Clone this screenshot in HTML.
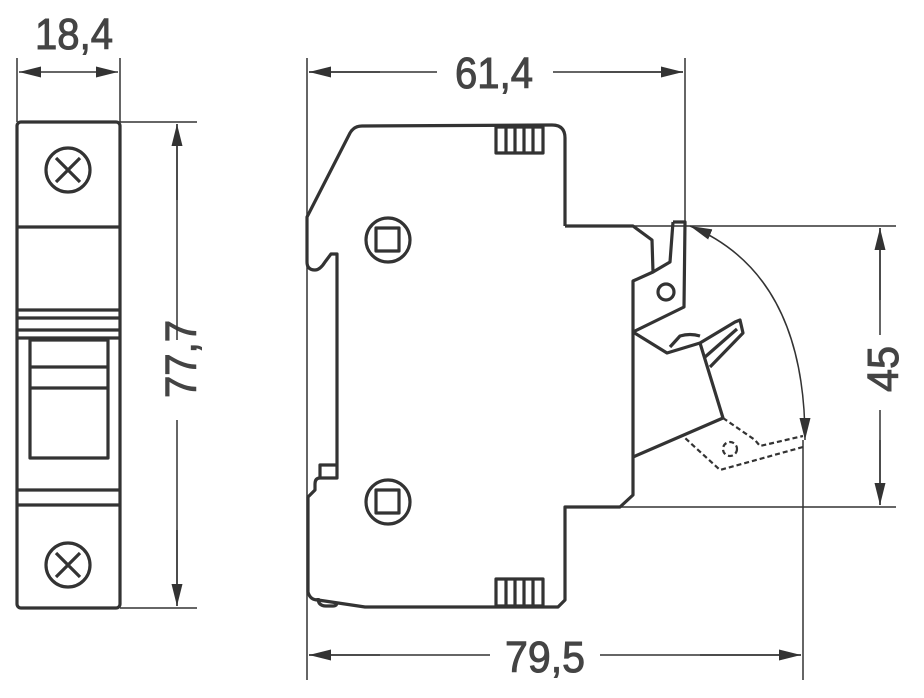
<!DOCTYPE html>
<html><head><style>html,body{margin:0;padding:0;background:#fff}svg{display:block}</style></head><body>
<svg width="924" height="698" viewBox="0 0 924 698" xmlns="http://www.w3.org/2000/svg">
<defs>
<marker id="b" viewBox="0 0 10 10" refX="10" refY="5" markerWidth="22" markerHeight="22" markerUnits="userSpaceOnUse" orient="auto-start-reverse"><path d="M0,2.5 L10,5 L0,7.5 z" fill="#333"/></marker>
</defs>
<g font-family="Liberation Sans, sans-serif" font-size="44" fill="#444" stroke="#444" stroke-width="1">
<text x="35" y="49" textLength="78" lengthAdjust="spacingAndGlyphs">18,4</text>
<text x="455" y="88" textLength="78" lengthAdjust="spacingAndGlyphs">61,4</text>
<text x="505" y="672" textLength="80" lengthAdjust="spacingAndGlyphs">79,5</text>
<text transform="translate(196,398) rotate(-90)" textLength="78" lengthAdjust="spacingAndGlyphs">77,7</text>
<text transform="translate(898,392) rotate(-90)" textLength="46" lengthAdjust="spacingAndGlyphs">45</text>
</g>
<g stroke="#333" stroke-width="1.5" fill="none">
<path d="M17 58V122M120 58V122M120 122H197M120 608H197M307 58V680M685 58V226M803 440V680M565 226H896M620 507H896"/>
<line x1="19" y1="72" x2="118" y2="72" marker-start="url(#b)" marker-end="url(#b)"/>
<path d="M177 124V340M177 420V606" />
<line x1="177" y1="124" x2="177" y2="200" marker-start="url(#b)"/>
<line x1="177" y1="530" x2="177" y2="606" marker-end="url(#b)"/>
<path d="M309 72H437M553 72H683"/>
<line x1="309" y1="72" x2="380" y2="72" marker-start="url(#b)"/>
<line x1="600" y1="72" x2="683" y2="72" marker-end="url(#b)"/>
<path d="M309 655H490M600 655H801"/>
<line x1="309" y1="655" x2="380" y2="655" marker-start="url(#b)"/>
<line x1="700" y1="655" x2="801" y2="655" marker-end="url(#b)"/>
<path d="M880 228V335M880 410V505"/>
<line x1="880" y1="228" x2="880" y2="300" marker-start="url(#b)"/>
<line x1="880" y1="440" x2="880" y2="505" marker-end="url(#b)"/>
<path d="M690 226 C760 255 805 320 805 440" marker-start="url(#b)" marker-end="url(#b)"/>
</g>
<g stroke="#333" stroke-width="3.2" fill="none" stroke-linejoin="round">
<rect x="17" y="122" width="103" height="486" rx="4"/>
<path d="M17 227H120M17 310H120M17 318H120M17 330H120M17 338H120M17 490H120M17 505H120"/>
<rect x="30" y="340" width="78" height="118"/>
<path d="M30 367H108M30 388H108"/>
<circle cx="68" cy="170" r="22"/><path d="M56 158L80 182M80 158L56 182"/>
<circle cx="68" cy="565" r="22"/><path d="M56 553L80 577M80 553L56 577"/>
<path d="M565 226 V138 Q565 125 552 125 L362 126 Q354 126 350 133 L307 217 V262 Q307 270 315 270 Q320 270 325 262 L331 254 H337 V478 H320 Q315 478 315 484 V490 L308 497 V592 Q310 600 318 600 L365 607 H558 L565 600 V507 H620 L633 495 V457"/>
<path d="M337 465 H320 V478"/>
<path d="M318 598 Q318 606 326 606 H333 Q337 606 337 602"/>
<path d="M565 226 H633 L652 240 L653 272 L633 281 V457"/>
<path d="M633 332 L667 353 L700 343 L723 418 L633 457"/>
<path d="M673 222 L670 262 L653 272 M673 222 H685 L684 307 L633 332"/>
<path d="M670 347 L680 336 Q690 333 700 336"/>
<path d="M700 343 L735 322 L740 320 L743 333 L710 367"/>
<path d="M705 357 L737 329"/>
<circle cx="666" cy="292" r="8"/>
<rect x="496" y="127" width="47" height="26"/><path d="M506 127V153M515 127V153M524 127V153M533 127V153"/>
<rect x="496" y="579" width="47" height="27"/><path d="M506 579V606M515 579V606M524 579V606M533 579V606"/>
<circle cx="388" cy="240" r="22"/><rect x="376" y="228" width="23" height="23"/>
<circle cx="388" cy="502" r="22"/><rect x="376" y="490" width="23" height="23"/>
</g>
<g stroke="#333" stroke-width="2.2" fill="none" stroke-dasharray="5 3">
<path d="M723 418 L755 440 L760 446 L803 436"/>
<path d="M803 447 L720 470 L685 438"/>
<circle cx="730" cy="449" r="7"/>
</g>
</svg>
</body></html>
